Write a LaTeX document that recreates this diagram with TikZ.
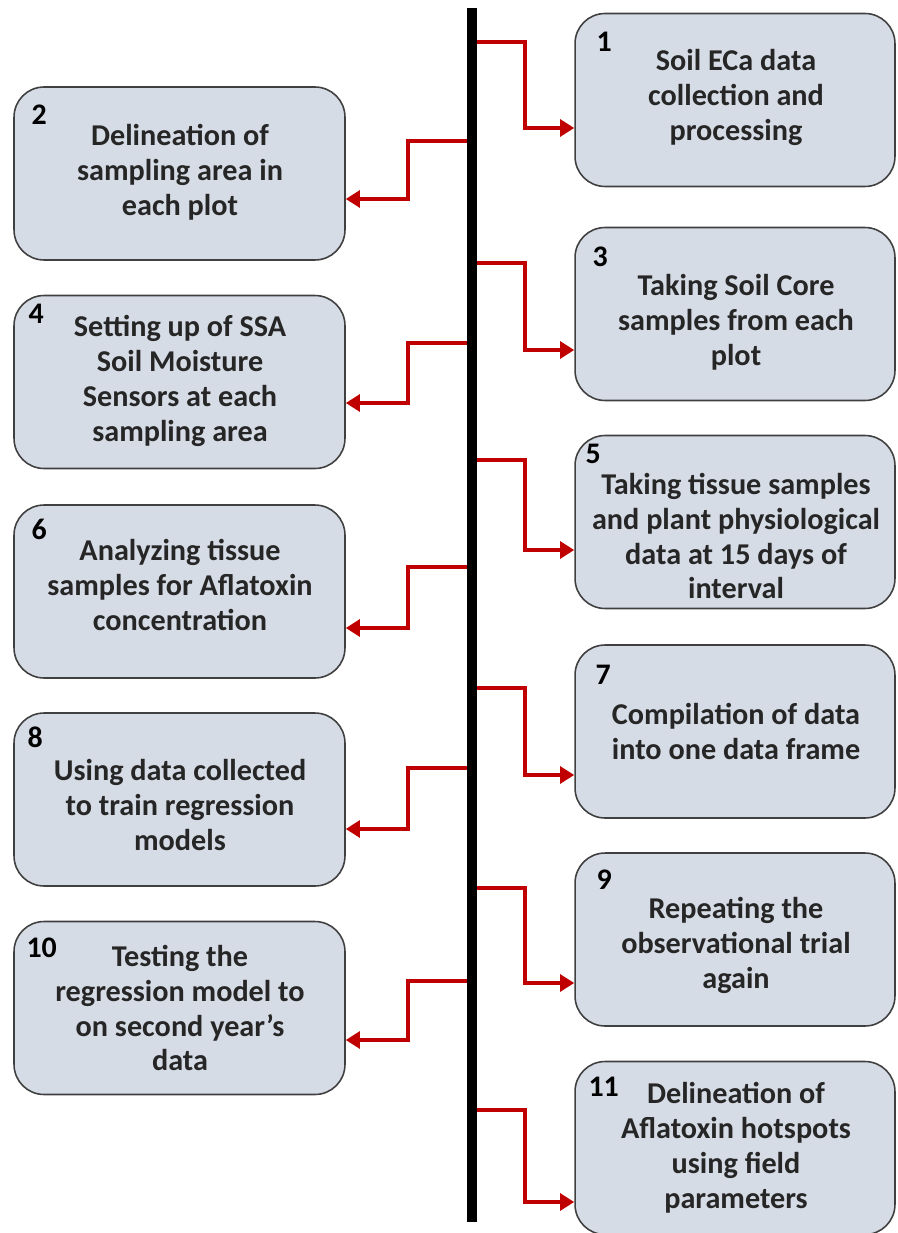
\documentclass[tikz,border=0pt]{standalone}
\usepackage{fontspec}
\setmainfont{Carlito}
\usetikzlibrary{arrows.meta}
\definecolor{boxfill}{HTML}{D6DCE5}
\definecolor{boxline}{HTML}{404040}
\definecolor{linkred}{HTML}{C00000}

\begin{document}
\begin{tikzpicture}[x=0.02cm, y=-0.02cm,
    stepbox/.style = {draw=boxline, line width=0.9pt, fill=boxfill, rounded corners=0.6cm,
        minimum height=3.46cm},
    rbox/.style = {stepbox, minimum width=6.4cm},
    lbox/.style = {stepbox, minimum width=6.62cm},
    txt/.style = {align=center, text=black!85, inner sep=0pt,
        font=\bfseries\fontsize{17.2}{19.9}\selectfont},
    num/.style = {inner sep=0pt, anchor=base west, font=\bfseries\fontsize{17}{20}\selectfont},
    link/.style = {draw=linkred, line width=2.4pt, -{Triangle[length=8pt,width=9.5pt]}},
    spine/.style = {line width=5.6pt, black}]
    \useasboundingbox (0,0) rectangle (897,1233);

    % boxes
    \foreach \i/\y in {1/100, 3/314, 5/522, 7/731.5, 9/939.5, 11/1148}
        \node[rbox] (b\i) at (735,\y) {};
    \foreach \i/\y in {2/173.5, 4/382, 6/591.5, 8/799.5, 10/1008}
        \node[lbox] (b\i) at (179.5,\y) {};

    \node[txt] (t1) at (736,97) {Soil ECa data\\collection and\\processing};
    \node[txt] (t2) at (180,172) {Delineation of\\sampling area in\\each plot};
    \node[txt] (t3) at (736,322) {Taking Soil Core\\samples from each\\plot};
    \node[txt] (t4) at (180,381) {Setting up of SSA\\Soil Moisture\\Sensors at each\\sampling area};
    \node[txt] (t5) at (736,536) {Taking tissue samples\\and plant physiological\\data at 15 days of\\interval};
    \node[txt] (t6) at (180,585) {Analyzing tissue\\samples for Aflatoxin\\concentration};
    \node[txt] (t7) at (736,731) {Compilation of data\\into one data frame};
    \node[txt] (t8) at (180,805) {Using data collected\\to train regression\\models};
    \node[txt] (t9) at (736,945) {Repeating the\\observational trial\\again};
    \node[txt] (t10) at (180,1008) {Testing the\\regression model to\\on second year’s\\data};
    \node[txt] (t11) at (736,1148) {Delineation of\\Aflatoxin hotspots\\using field\\parameters};

    % step numbers
    \foreach \i/\dx/\dy in {1/22/39, 2/18/38, 3/18/40, 4/15/29, 5/11/29, 6/18/35,
                            7/21/40, 8/14/35, 9/22/37, 10/13/37, 11/14/36}
        \node[num] (n\i) at ([shift={(\dx,\dy)}]b\i.north west) {\i};

    \coordinate (top) at (472,8);
    \coordinate (bot) at (472,1222);

    % right side
    \foreach \i/\a/\b in {1/42/128, 3/263/350, 5/460/550, 7/688/775, 9/888/983, 11/1110/1202}
        \draw[link] (top |- 0,\a) -| (525,\b) -- (b\i.west |- 0,\b);
    % left side
    \foreach \i/\a/\b in {2/141/199, 4/343/403, 6/567/628, 8/768/829, 10/981/1040}
        \draw[link] (top |- 0,\a) -| (408,\b) -- (b\i.east |- 0,\b);

    \draw[spine] (top) -- (bot);
\end{tikzpicture}
\end{document}
